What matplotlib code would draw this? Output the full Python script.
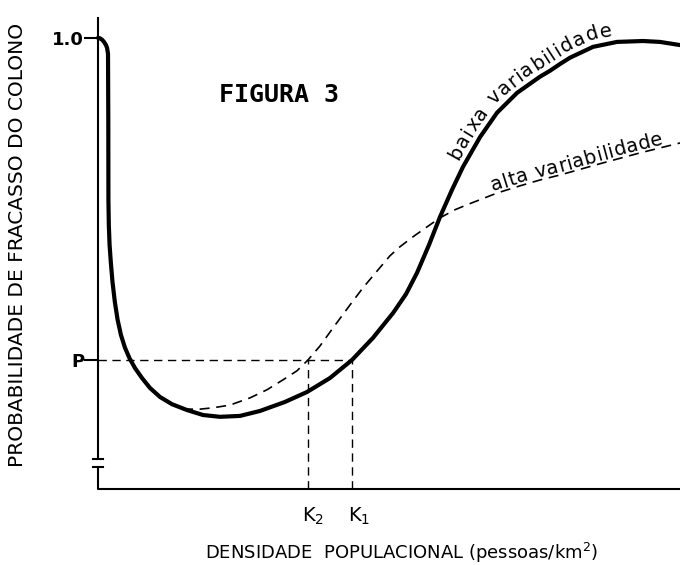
import matplotlib
matplotlib.use("Agg")
import matplotlib.pyplot as plt
import numpy as np

plt.rcParams['font.family'] = ['DejaVu Sans']

# curva de baixa variabilidade (linha cheia)
baixa_x = [0.00, 0.34, 0.69, 1.03, 1.37, 1.55, 1.72, 1.77, 1.79, 1.86, 1.99, 2.20,
           2.49, 2.89, 3.37, 3.95, 4.64, 5.41, 6.36, 7.56, 8.93, 10.65, 12.71,
           15.29, 18.04, 20.96, 24.40, 27.84, 32.13, 35.91, 39.86, 43.64, 47.25,
           50.69, 52.92, 54.81, 56.87, 58.76, 60.82, 62.71, 65.64, 68.56, 72.00,
           75.95, 77.66, 79.38, 81.10, 85.05, 89.18, 93.64, 96.56, 100.0]
baixa_y = [1.000, 0.999, 0.996, 0.991, 0.984, 0.978, 0.965, 0.818, 0.641, 0.585,
           0.541, 0.503, 0.459, 0.415, 0.375, 0.341, 0.313, 0.290, 0.268, 0.246,
           0.224, 0.204, 0.188, 0.175, 0.164, 0.160, 0.162, 0.173, 0.193, 0.215,
           0.246, 0.286, 0.335, 0.390, 0.432, 0.479, 0.541, 0.603, 0.663, 0.714,
           0.780, 0.834, 0.878, 0.914, 0.927, 0.942, 0.956, 0.980, 0.991, 0.993,
           0.991, 0.984]

# curva de alta variabilidade (tracejada)
alta_x = [14.60, 17.53, 19.76, 22.68, 26.12, 29.04, 31.79, 34.19, 36.08, 38.14,
          40.38, 43.30, 45.53, 47.94, 50.17, 51.89, 54.12, 56.53, 58.76, 61.34,
          63.40, 65.98, 68.56, 72.51, 75.95, 79.38, 86.25, 93.13, 100.0]
alta_y = [0.177, 0.177, 0.180, 0.186, 0.202, 0.220, 0.242, 0.262, 0.286, 0.317,
          0.357, 0.408, 0.446, 0.483, 0.517, 0.537, 0.559, 0.581, 0.601, 0.619,
          0.630, 0.643, 0.656, 0.672, 0.685, 0.696, 0.721, 0.745, 0.767]

P = 0.286
K2 = 36.08
K1 = 43.64
y_top = 1.044
quebra = [0.049, 0.067]

fig = plt.figure(figsize=(6.8, 5.65), dpi=100)
ax = fig.add_axes([98 / 680, 76 / 565, 582 / 680, 471 / 565])
ax.set_xlim(0, 100)
ax.set_ylim(0, y_top)

for s in ax.spines.values():
    s.set_visible(False)

# eixos desenhados a mao, com quebra no eixo y
ax.plot([0, 0], [quebra[1], y_top], color='black', lw=1.5, clip_on=False)
ax.plot([0, 0, 100], [quebra[0], 0, 0], color='black', lw=1.5, clip_on=False)
for q in quebra:
    ax.plot([-0.9, 0.9], [q, q], color='black', lw=1.5, clip_on=False)

# linhas guia de P, K1 e K2
dash = dict(color='black', lw=1.0, ls=(0, (6, 4)))
ax.plot([0, K1], [P, P], **dash)
ax.plot([K2, K2], [0, P], **dash)
ax.plot([K1, K1], [0, P], **dash)

ax.plot(baixa_x, baixa_y, color='black', lw=3.0, solid_capstyle='round',
        solid_joinstyle='round', clip_on=False)
ax.plot(alta_x, alta_y, color='black', lw=1.2, ls=(0, (6, 4)), clip_on=False)

ax.set_yticks([1.0, P])
ax.set_yticklabels(['1.0', 'P'], fontsize=13, fontweight='bold')
ax.set_xticks([K2 + 0.8, K1 + 1.2])
ax.set_xticklabels([r'K$_2$', r'K$_1$'], fontsize=14)
ax.tick_params(axis='y', length=10, width=1.5, pad=0)
ax.tick_params(axis='x', length=0, pad=12)

fig.text(402 / 680, 1 - 553 / 565, 'DENSIDADE  POPULACIONAL (pessoas/km$^2$)',
         ha='center', va='center', fontsize=13)
fig.text(18 / 680, 1 - 245 / 565, 'PROBABILIDADE DE FRACASSO DO COLONO',
         rotation=90, ha='center', va='center', fontsize=14.5)

fig.text(279 / 680, 1 - 95 / 565, 'FIGURA 3', ha='center', va='center',
         fontsize=18, fontweight='bold', family='DejaVu Sans Mono')


def texto_na_curva(xs, ys, texto, x_inicio, desvio, tamanho, espaco=0.0):
    # escreve o texto letra a letra seguindo a curva (coordenadas de tela)
    rend = fig.canvas.get_renderer()
    pts = ax.transData.transform(np.column_stack([xs, ys]))
    seg = np.hypot(np.diff(pts[:, 0]), np.diff(pts[:, 1]))
    cum = np.concatenate([[0], np.cumsum(seg)])
    x0 = ax.transData.transform((x_inicio, 0))[0]
    s = np.interp(x0, pts[:, 0], cum)

    def largura(t):
        tt = fig.text(0, 0, t, fontsize=tamanho)
        w = tt.get_window_extent(rend).width
        tt.remove()
        return w

    base = largura('xx')
    for ch in texto:
        w = largura('x' + ch + 'x') - base
        m = s + w / 2
        px = np.interp(m, cum, pts[:, 0])
        py = np.interp(m, cum, pts[:, 1])
        a0 = np.interp(m - 12, cum, pts[:, 0]), np.interp(m - 12, cum, pts[:, 1])
        a1 = np.interp(m + 12, cum, pts[:, 0]), np.interp(m + 12, cum, pts[:, 1])
        dx, dy = a1[0] - a0[0], a1[1] - a0[1]
        n = np.hypot(dx, dy)
        nx, ny = -dy / n, dx / n
        ang = np.degrees(np.arctan2(dy, dx))
        if ch != ' ':
            fig.text(px + nx * desvio, py + ny * desvio, ch, transform=None,
                     fontsize=tamanho, rotation=ang, rotation_mode='anchor',
                     ha='center', va='baseline')
        s += w + espaco


texto_na_curva(baixa_x, baixa_y, 'baixa variabilidade', 63.0, 7, 14, 0.8)
texto_na_curva(alta_x, alta_y, 'alta variabilidade', 68.0, 3, 14, 0.5)

fig.savefig('out.png', dpi=100)
